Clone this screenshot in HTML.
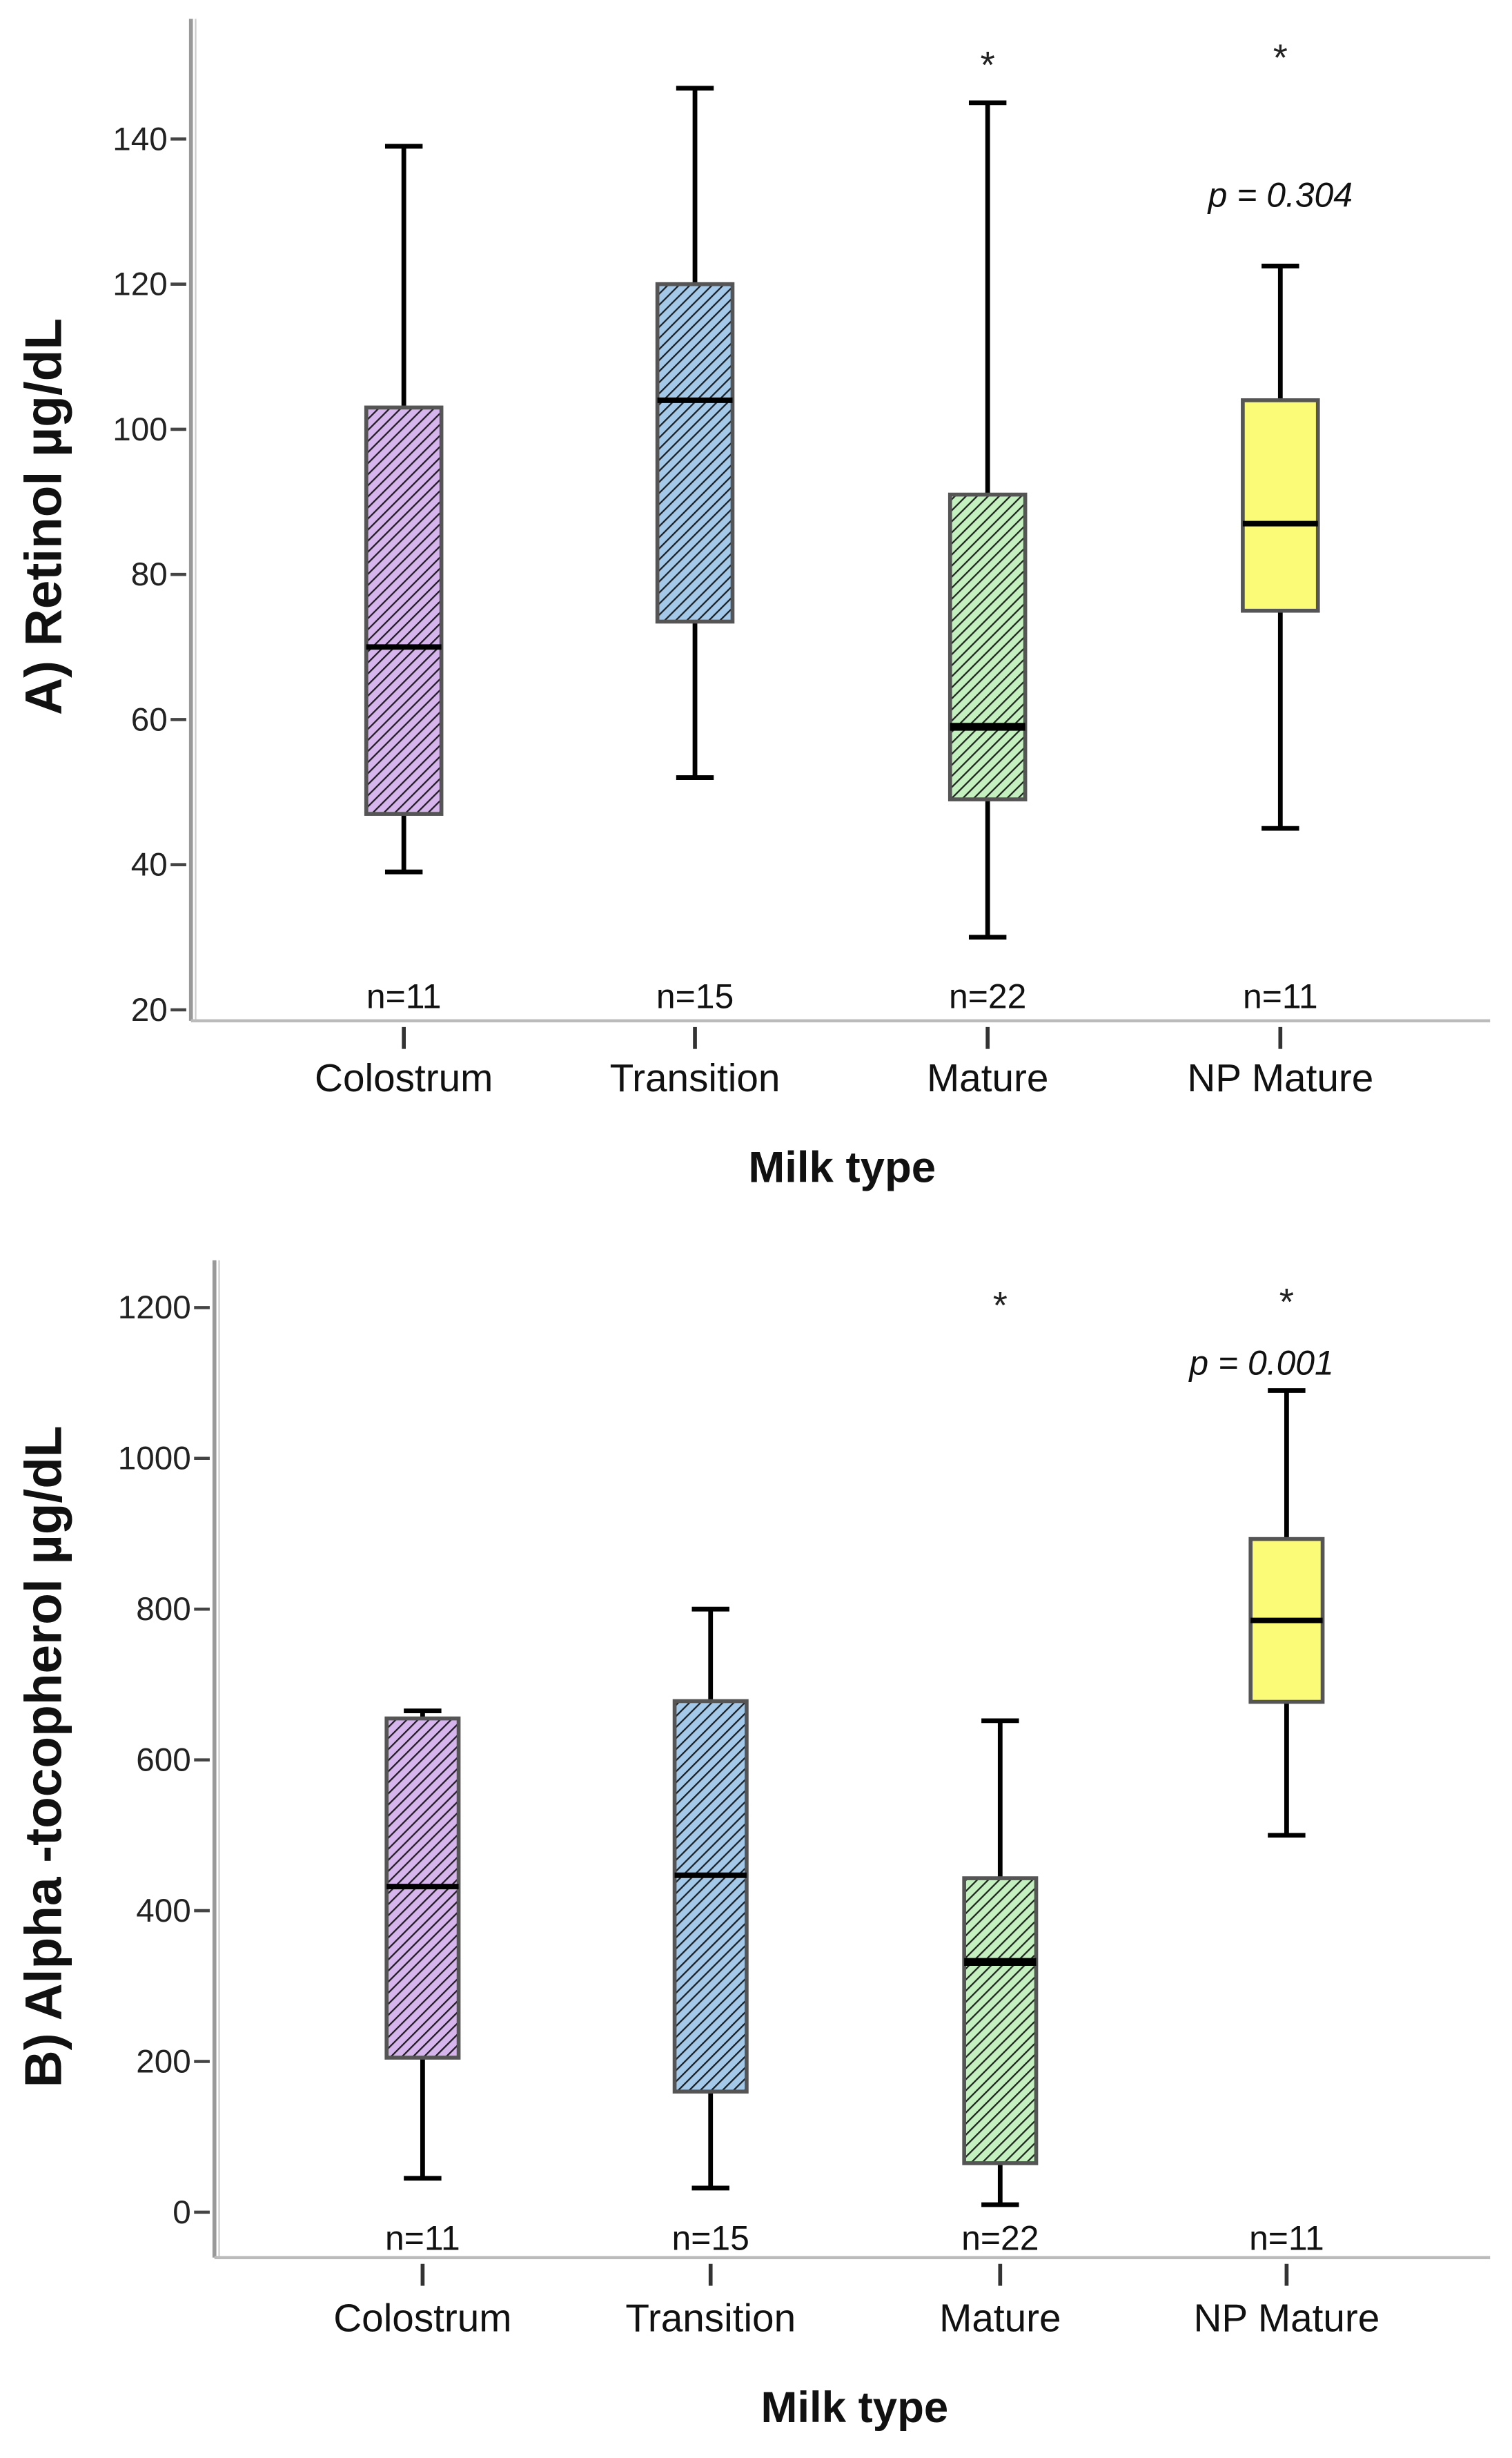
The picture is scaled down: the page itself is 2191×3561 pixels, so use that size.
<!DOCTYPE html>
<html><head><meta charset="utf-8">
<style>
html,body{margin:0;padding:0;background:#fff;}
svg{display:block;}
text{font-family:"Liberation Sans",sans-serif;}
</style></head>
<body>
<svg id="fig" width="2191" height="3561" viewBox="0 0 966 1570" preserveAspectRatio="none" xmlns="http://www.w3.org/2000/svg">
<defs>
<pattern id="hatch" patternUnits="userSpaceOnUse" width="5" height="5" patternTransform="rotate(45)">
<line x1="0" y1="0" x2="0" y2="5" stroke="#000" stroke-width="2"/>
</pattern>
</defs>
<g id="chartA"></g>
<g id="chartB"></g>
</svg>
<script>
const categories = ["Colostrum","Transition","Mature","NP Mature"];
const nLabels = ["n=11","n=15","n=22","n=11"];
const colors = ["#d6b4ec","#a3c8e8","#c4f0c0","#fbfb78"];
const hatched = [true,true,true,false];
// Chart A: retinol
const retLow = [39,52,30,45];
const retQ1 = [47,73.5,49,75];
const retMed = [70,104,59,87];
const retQ3 = [103,120,91,104];
const retHigh = [139,147,145,122.5];
const retOutliers = [null,null,151.5,152.5];
const retTicks = [20,40,60,80,100,120,140];
// Chart B: alpha-tocopherol
const tocLow = [45,32,10,500];
const tocQ1 = [205,160,65,677];
const tocMed = [432,447,332,785];
const tocQ3 = [655,678,443,893];
const tocHigh = [665,800,652,1090];
const tocOutliers = [null,null,1215,1220];
const tocTicks = [0,200,400,600,800,1000,1200];

const NS="http://www.w3.org/2000/svg";
function mk(parent,tag,attrs,txt){const e=document.createElementNS(NS,tag);for(const k in attrs)e.setAttribute(k,attrs[k]);if(txt!==undefined)e.textContent=txt;parent.appendChild(e);return e;}

function drawChart(cfg){
  const g=document.getElementById(cfg.id);
  const y=v=>cfg.y0-(v-cfg.v0)*cfg.ppu;
  const x=i=>cfg.xs[i];
  let a=mk(g,'line',{x1:cfg.ax,y1:cfg.top,x2:cfg.ax,y2:cfg.axY,stroke:'#999','stroke-width':2.5});
  
  mk(g,'line',{x1:cfg.ax+3,y1:cfg.top,x2:cfg.ax+3,y2:cfg.axY,stroke:'#ccc','stroke-width':1});
  a=mk(g,'line',{x1:cfg.ax,y1:cfg.axY,x2:952,y2:cfg.axY,stroke:'#bbb','stroke-width':2});
  
  cfg.ticks.forEach(t=>{
    mk(g,'line',{x1:cfg.ax-13,y1:y(t),x2:cfg.ax-3,y2:y(t),stroke:'#444','stroke-width':2});
    const tl=mk(g,'text',{x:cfg.ax-15,y:y(t)+7,'text-anchor':'end','font-size':21,fill:'#222'},t);
    
  });
  categories.forEach((c,i)=>{
    const bx=x(i), hw=cfg.bw/2;
    const box=mk(g,'g',{});
    
    
    mk(box,'line',{x1:bx,y1:y(cfg.high[i]),x2:bx,y2:y(cfg.q3[i]),stroke:'#000','stroke-width':3});
    mk(box,'line',{x1:bx,y1:y(cfg.q1[i]),x2:bx,y2:y(cfg.low[i]),stroke:'#000','stroke-width':3});
    mk(box,'line',{x1:bx-12,y1:y(cfg.high[i]),x2:bx+12,y2:y(cfg.high[i]),stroke:'#000','stroke-width':3});
    mk(box,'line',{x1:bx-12,y1:y(cfg.low[i]),x2:bx+12,y2:y(cfg.low[i]),stroke:'#000','stroke-width':3});
    const rectA={x:bx-hw,y:y(cfg.q3[i]),width:cfg.bw,height:y(cfg.q1[i])-y(cfg.q3[i])};
    mk(box,'rect',Object.assign({fill:colors[i]},rectA));
    if(hatched[i]) mk(box,'rect',Object.assign({fill:'url(#hatch)','fill-opacity':0.85},rectA));
    mk(box,'rect',Object.assign({fill:'none',stroke:'#555','stroke-width':2.5},rectA));
    mk(box,'line',{x1:bx-hw,y1:y(cfg.med[i]),x2:bx+hw,y2:y(cfg.med[i]),stroke:'#000','stroke-width':i==2?5:3.5});
    if(cfg.out[i]!==null){
      const s=mk(g,'text',{x:bx,y:y(cfg.out[i])+14,'text-anchor':'middle','font-size':24,fill:'#222'},'*');
      
    }
    const nl=mk(g,'text',{x:bx,y:cfg.nY,'text-anchor':'middle','font-size':22,fill:'#111'},nLabels[i]);
    
    mk(g,'line',{x1:bx,y1:cfg.axY+4,x2:bx,y2:cfg.axY+18,stroke:'#333','stroke-width':2.5});
    const cl=mk(g,'text',{x:bx,y:cfg.catY,'text-anchor':'middle','font-size':25,fill:'#111'},c);
    
  });
  const p=mk(g,'text',{x:cfg.pX,y:cfg.pY,'text-anchor':'middle','font-size':22,'font-style':'italic',fill:'#111'},cfg.pText);
  
  const xt=mk(g,'text',{x:cfg.xtX,y:cfg.xtY,'text-anchor':'middle','font-size':28,'font-weight':'bold',fill:'#111'},'Milk type');
  
  const yt=mk(g,'text',{x:0,y:0,'text-anchor':'middle','font-size':cfg.ytSize,'font-weight':'bold',fill:'#111',transform:'translate(39,'+cfg.ytY+') rotate(-90)'},cfg.ytText);
  
}

drawChart({id:'chartA',ax:122,top:12,axY:652,y0:645,v0:20,ppu:92.7/20,xs:[258,444,631,818],bw:48,
  ticks:retTicks,low:retLow,q1:retQ1,med:retMed,q3:retQ3,high:retHigh,out:retOutliers,
  nY:644,catY:697,pX:818,pY:132,pText:'p = 0.304',xtX:538,xtY:755,ytY:330,ytSize:33,ytText:'A) Retinol µg/dL'});
drawChart({id:'chartB',ax:137,top:805,axY:1442,y0:1413,v0:0,ppu:96.3/200,xs:[270,454,639,822],bw:46,
  ticks:tocTicks,low:tocLow,q1:tocQ1,med:tocMed,q3:tocQ3,high:tocHigh,out:tocOutliers,
  nY:1437,catY:1489,pX:806,pY:878,pText:'p = 0.001',xtX:546,xtY:1547,ytY:1122,ytSize:33,ytText:'B) Alpha -tocopherol µg/dL'});
</script>
</body></html>
